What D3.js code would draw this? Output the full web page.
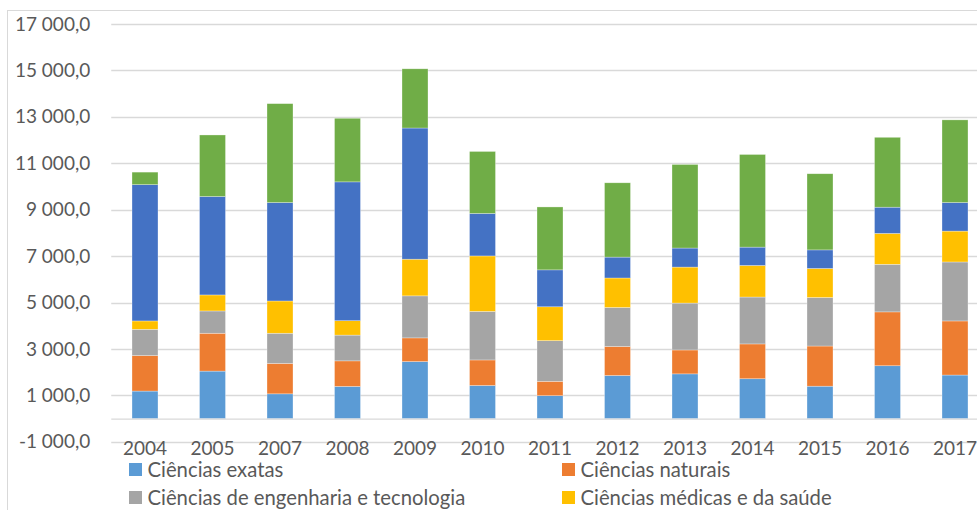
<!DOCTYPE html>
<html>
<head>
<meta charset="utf-8">
<script src="https://cdn.jsdelivr.net/npm/d3@7"></script>
<style>
  body { margin: 0; background: #fff; }
  svg text { font-family: Lato, "Open Sans", sans-serif; fill: #595959; }
</style>
</head>
<body>
<div id="chart"></div>
<script>
var svgWidth = 977;
var svgHeight = 510;

// data
var years = ["2004", "2005", "2007", "2008", "2009", "2010", "2011", "2012", "2013", "2014", "2015", "2016", "2017"];
var seriesNames = ["Ciências exatas", "Ciências naturais", "Ciências de engenharia e tecnologia",
  "Ciências médicas e da saúde", "Ciências agrárias", "Ciências sociais e humanidades"];
var exatas     = [1190, 2050, 1070, 1390, 2460, 1430, 990, 1860, 1930, 1720, 1400, 2280, 1880];
var naturais   = [1530, 1630, 1310, 1100, 1020, 1100, 620, 1250, 1030, 1500, 1730, 2320, 2330];
var engenharia = [1130, 960, 1300, 1110, 1810, 2090, 1750, 1680, 2020, 2020, 2090, 2050, 2540];
var medicas    = [360, 690, 1390, 620, 1580, 2390, 1460, 1270, 1550, 1360, 1250, 1330, 1330];
var agrarias   = [5870, 4240, 4240, 5980, 5650, 1830, 1590, 900, 820, 790, 800, 1130, 1230];
var sociais    = [540, 2650, 4260, 2740, 2550, 2670, 2710, 3200, 3600, 3990, 3280, 3010, 3560];
var yTicks = [-1000, 1000, 3000, 5000, 7000, 9000, 11000, 13000, 15000, 17000];

var colors = ["#5b9bd5", "#ed7d31", "#a5a5a5", "#ffc000", "#4472c4", "#70ad47"];
var allSeries = [exatas, naturais, engenharia, medicas, agrarias, sociais];

var keys = ["exatas", "naturais", "engenharia", "medicas", "agrarias", "sociais"];
var table = years.map(function(y, i) {
  var row = { year: y };
  keys.forEach(function(k, j) { row[k] = allSeries[j][i]; });
  return row;
});

var svg = d3.select("#chart")
  .append("svg")
  .attr("width", svgWidth)
  .attr("height", svgHeight);

// chart area frame (cut off at right and bottom)
svg.append("rect")
  .attr("x", 7.5)
  .attr("y", 10.5)
  .attr("width", 1000)
  .attr("height", 600)
  .attr("fill", "#fff")
  .attr("stroke", "#d9d9d9");

var xScale = d3.scaleBand()
  .domain(years)
  .range([111.25, 988.75])
  .paddingInner(0.615)
  .paddingOuter(0.3075);

var yScale = d3.scaleLinear()
  .domain([-1000, 17000])
  .range([441.9, 24]);

var locale = d3.formatLocale({ decimal: ",", thousands: "\u00a0", grouping: [3], currency: ["", ""], minus: "-" });
var fmt = locale.format(",.1f");

// gridlines
svg.append("g")
  .selectAll("line")
  .data(yTicks)
  .enter()
  .append("line")
  .attr("x1", 111.25)
  .attr("x2", 988.75)
  .attr("y1", d => Math.round(yScale(d)) + 0.5)
  .attr("y2", d => Math.round(yScale(d)) + 0.5)
  .attr("stroke", "#d9d9d9")
  .attr("stroke-width", 1.3);

// y axis labels
var leftAxis = d3.axisLeft(yScale)
  .tickValues(yTicks)
  .tickFormat(fmt)
  .tickSize(0)
  .tickPadding(21);

svg.append("g")
  .attr("transform", "translate(111.25, 0)")
  .call(leftAxis)
  .call(g => g.select(".domain").remove())
  .selectAll("text")
  .attr("font-size", "19px")
  .attr("font-family", "Lato, 'Open Sans', sans-serif")
  .attr("fill", "#595959");

// stacked bars
var stack = d3.stack().keys(keys);
var layers = stack(table);

svg.append("g")
  .selectAll("g")
  .data(layers)
  .enter()
  .append("g")
  .attr("fill", (d, i) => colors[i])
  .selectAll("rect")
  .data(d => d)
  .enter()
  .append("rect")
  .attr("x", d => xScale(d.data.year))
  .attr("width", xScale.bandwidth())
  .attr("y", d => yScale(d[1]))
  .attr("height", d => yScale(d[0]) - yScale(d[1]))
  .attr("stroke", "#fff")
  .attr("stroke-opacity", 0.5)
  .attr("stroke-width", 0.6);

// category axis at zero
var bottomAxis = d3.axisBottom(xScale)
  .tickSize(0)
  .tickPadding(22.5);

svg.append("g")
  .attr("transform", `translate(0, ${yScale(0)})`)
  .call(bottomAxis)
  .call(g => g.select(".domain")
    .attr("stroke", "#d9d9d9")
    .attr("stroke-width", 1.3)
    .attr("d", "M111.25,0.5H988.75"))
  .selectAll("text")
  .attr("font-size", "19px")
  .attr("font-family", "Lato, 'Open Sans', sans-serif")
  .attr("fill", "#595959");

// legend, two columns
var legend = svg.append("g")
  .selectAll("g")
  .data(seriesNames)
  .enter()
  .append("g")
  .attr("transform", (d, i) => `translate(${i % 2 === 0 ? 129 : 562}, ${476.5 + Math.floor(i / 2) * 28})`);

legend.append("rect")
  .attr("x", 0)
  .attr("y", -13.5)
  .attr("width", 13)
  .attr("height", 13)
  .attr("fill", (d, i) => colors[i]);

legend.append("text")
  .attr("x", 18.5)
  .attr("y", 0)
  .attr("font-size", "20.3px")
  .text(d => d);
</script>
</body>
</html>
